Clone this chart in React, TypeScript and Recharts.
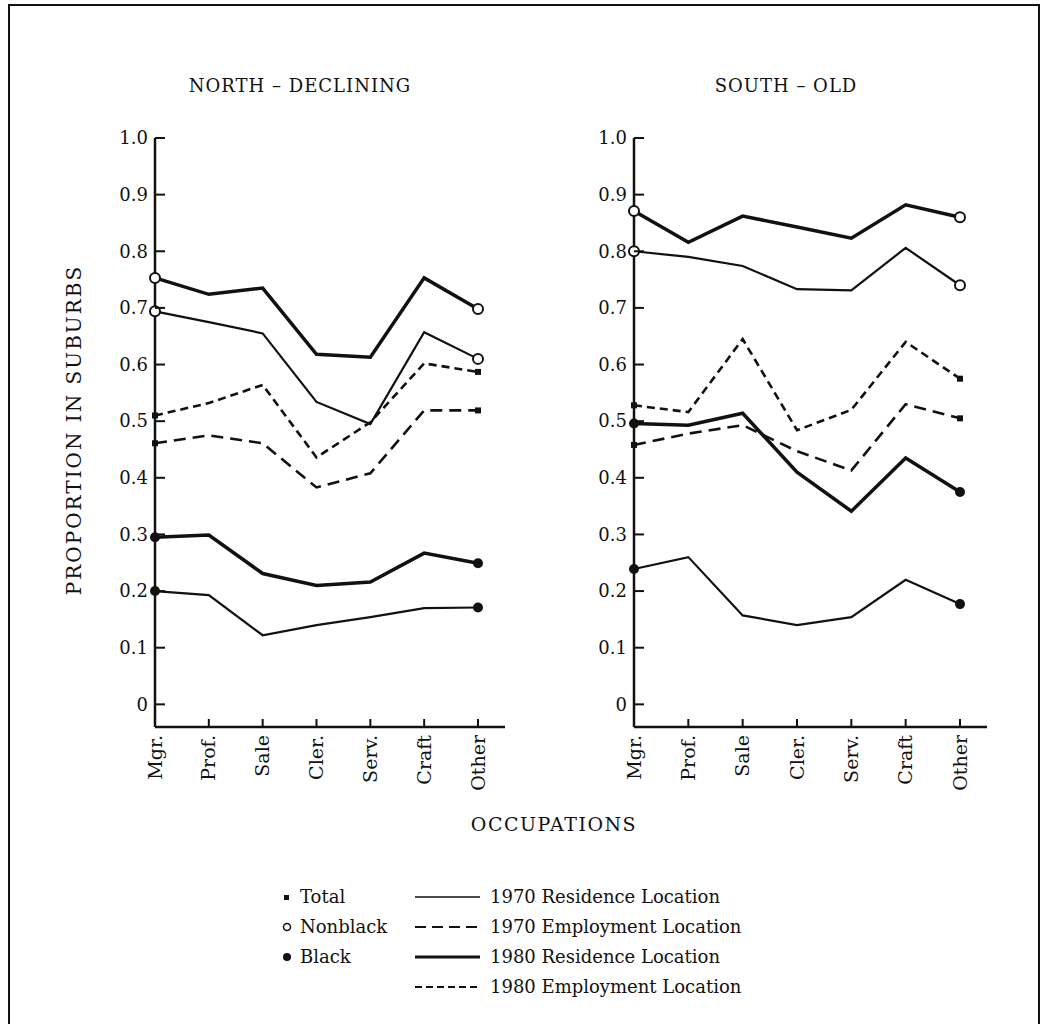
import React from 'react';
import { LineChart, Line, XAxis, YAxis } from 'recharts';

const OCCUPATIONS = ['Mgr.', 'Prof.', 'Sale', 'Cler.', 'Serv.', 'Craft', 'Other'];
const Y_TICKS = [0, 0.1, 0.2, 0.3, 0.4, 0.5, 0.6, 0.7, 0.8, 0.9, 1.0];

// North - declining
const northNonblackRes1980 = [0.753, 0.724, 0.735, 0.618, 0.613, 0.753, 0.698];
const northNonblackRes1970 = [0.694, 0.675, 0.655, 0.534, 0.495, 0.657, 0.61];
const northTotalEmp1980 = [0.51, 0.532, 0.564, 0.436, 0.498, 0.602, 0.587];
const northTotalEmp1970 = [0.461, 0.475, 0.461, 0.383, 0.408, 0.519, 0.519];
const northBlackRes1980 = [0.295, 0.299, 0.231, 0.21, 0.216, 0.267, 0.249];
const northBlackRes1970 = [0.2, 0.193, 0.122, 0.14, 0.154, 0.17, 0.171];

// South - old
const southNonblackRes1980 = [0.871, 0.816, 0.862, 0.843, 0.823, 0.882, 0.86];
const southNonblackRes1970 = [0.8, 0.79, 0.774, 0.733, 0.731, 0.806, 0.74];
const southTotalEmp1980 = [0.528, 0.516, 0.645, 0.484, 0.52, 0.64, 0.575];
const southTotalEmp1970 = [0.458, 0.478, 0.493, 0.447, 0.413, 0.53, 0.505];
const southBlackRes1980 = [0.496, 0.493, 0.514, 0.41, 0.341, 0.435, 0.375];
const southBlackRes1970 = [0.239, 0.26, 0.157, 0.14, 0.154, 0.22, 0.177];

const FONT = '"DejaVu Serif", serif';
const INK = '#111';

const buildRows = (series: Record<string, number[]>) =>
  OCCUPATIONS.map((occ, i) => {
    const row: any = { occ };
    Object.keys(series).forEach((k) => {
      row[k] = series[k][i];
    });
    return row;
  });

const northRows = buildRows({
  nbRes80: northNonblackRes1980,
  nbRes70: northNonblackRes1970,
  emp80: northTotalEmp1980,
  emp70: northTotalEmp1970,
  bRes80: northBlackRes1980,
  bRes70: northBlackRes1970,
});

const southRows = buildRows({
  nbRes80: southNonblackRes1980,
  nbRes70: southNonblackRes1970,
  emp80: southTotalEmp1980,
  emp70: southTotalEmp1970,
  bRes80: southBlackRes1980,
  bRes70: southBlackRes1970,
});

type Marker = 'open' | 'filled' | 'small';

// key, stroke width, dash pattern, end marker
const SERIES: { key: string; width: number; dash?: string; marker: Marker }[] = [
  { key: 'nbRes80', width: 3.5, marker: 'open' },
  { key: 'nbRes70', width: 2.2, marker: 'open' },
  { key: 'emp80', width: 2.6, dash: '8 5', marker: 'small' },
  { key: 'emp70', width: 2.6, dash: '12 7', marker: 'small' },
  { key: 'bRes80', width: 3.5, marker: 'filled' },
  { key: 'bRes70', width: 2.2, marker: 'filled' },
];

const endDot = (marker: Marker) => (props: any) => {
  const { cx, cy, index } = props;
  const last = OCCUPATIONS.length - 1;
  const k = `dot-${marker}-${index}`;
  if (index !== 0 && index !== last) return <g key={k} />;
  if (marker === 'open')
    return <circle key={k} cx={cx} cy={cy} r={5} fill="#fff" stroke={INK} strokeWidth={2} />;
  if (marker === 'filled') return <circle key={k} cx={cx} cy={cy} r={5} fill={INK} />;
  return <rect key={k} x={cx - 3} y={cy - 3} width={6} height={6} fill={INK} />;
};

const YTick = (props: any) => {
  const { x, y, payload } = props;
  const v = payload.value;
  const label = v === 0 ? '0' : v.toFixed(1);
  return (
    <g>
      <line x1={x} y1={y} x2={x + 10} y2={y} stroke={INK} strokeWidth={2} />
      <text x={x - 7} y={y} dy="0.35em" textAnchor="end" fontSize={18} fontFamily={FONT} fill={INK}>
        {label}
      </text>
    </g>
  );
};

const XTick = (props: any) => {
  const { x, y, payload } = props;
  return (
    <g>
      <line x1={x} y1={y} x2={x} y2={y - 8} stroke={INK} strokeWidth={2} />
      <text
        transform={`translate(${x},${y + 8}) rotate(-90)`}
        dy="0.35em"
        textAnchor="end"
        fontSize={19}
        fontFamily={FONT}
        fill={INK}
      >
        {payload.value}
      </text>
    </g>
  );
};

const PLOT_TOP = 138;
const PLOT_BOTTOM = 727;
const Y_AXIS_W = 70;
const X_AXIS_H = 70;
const CHART_H = 810;

const Panel = ({ axisX, plotWidth, rows }: { axisX: number; plotWidth: number; rows: any[] }) => {
  const width = 155 + plotWidth + 15;
  return (
    <div style={{ position: 'absolute', left: axisX - 155, top: 0 }}>
      <LineChart
        width={width}
        height={CHART_H}
        data={rows}
        margin={{ top: PLOT_TOP, right: 15, left: 155 - Y_AXIS_W, bottom: CHART_H - PLOT_BOTTOM - X_AXIS_H }}
      >
        <XAxis
          dataKey="occ"
          interval={0}
          padding={{ left: 0, right: 27 }}
          height={X_AXIS_H}
          tickSize={0}
          tickMargin={0}
          tickLine={false}
          tick={<XTick />}
          axisLine={{ stroke: INK, strokeWidth: 2.5 }}
        />
        <YAxis
          type="number"
          domain={[-0.04, 1]}
          allowDataOverflow
          ticks={Y_TICKS}
          width={Y_AXIS_W}
          tickSize={0}
          tickMargin={0}
          tickLine={false}
          tick={<YTick />}
          axisLine={{ stroke: INK, strokeWidth: 2.5 }}
        />
        {SERIES.map((s) => (
          <Line
            key={s.key}
            type="linear"
            dataKey={s.key}
            stroke={INK}
            strokeWidth={s.width}
            strokeDasharray={s.dash}
            dot={endDot(s.marker)}
            activeDot={false}
            isAnimationActive={false}
          />
        ))}
      </LineChart>
    </div>
  );
};

const LEGEND_ROWS = [897, 927, 957, 987];
const GROUP_LABELS = ['Total', 'Nonblack', 'Black'];
const LINE_LABELS = [
  '1970 Residence Location',
  '1970 Employment Location',
  '1980 Residence Location',
  '1980 Employment Location',
];

const Overlay = () => (
  <svg
    width={1043}
    height={1024}
    style={{ position: 'absolute', left: 0, top: 0, pointerEvents: 'none' }}
    fontFamily={FONT}
    fill={INK}
  >
    <path d="M9,1024 L9,5 L1039,5 L1039,1024" fill="none" stroke={INK} strokeWidth={2} />
    <text x={300} y={92} textAnchor="middle" fontSize={18} letterSpacing={1}>
      NORTH – DECLINING
    </text>
    <text x={786} y={92} textAnchor="middle" fontSize={18} letterSpacing={1}>
      SOUTH – OLD
    </text>
    <text
      transform="translate(74,430) rotate(-90)"
      dy="0.35em"
      textAnchor="middle"
      fontSize={20}
      letterSpacing={2}
    >
      PROPORTION IN SUBURBS
    </text>
    <text x={554} y={831} textAnchor="middle" fontSize={19} letterSpacing={1.5}>
      OCCUPATIONS
    </text>

    {/* legend: groups */}
    <rect x={284} y={LEGEND_ROWS[0] - 2} width={5} height={5} fill={INK} />
    <circle cx={287} cy={LEGEND_ROWS[1]} r={3.5} fill="#fff" stroke={INK} strokeWidth={1.5} />
    <circle cx={287} cy={LEGEND_ROWS[2]} r={4} fill={INK} />
    {GROUP_LABELS.map((t, i) => (
      <text key={t} x={300} y={LEGEND_ROWS[i]} dy="0.35em" fontSize={18}>
        {t}
      </text>
    ))}

    {/* legend: line styles */}
    <line x1={415} x2={480} y1={LEGEND_ROWS[0]} y2={LEGEND_ROWS[0]} stroke={INK} strokeWidth={1.5} />
    <line x1={415} x2={480} y1={LEGEND_ROWS[1]} y2={LEGEND_ROWS[1]} stroke={INK} strokeWidth={2} strokeDasharray="11 6" />
    <line x1={415} x2={480} y1={LEGEND_ROWS[2]} y2={LEGEND_ROWS[2]} stroke={INK} strokeWidth={3} />
    <line x1={415} x2={480} y1={LEGEND_ROWS[3]} y2={LEGEND_ROWS[3]} stroke={INK} strokeWidth={2} strokeDasharray="7 4" />
    {LINE_LABELS.map((t, i) => (
      <text key={t} x={490} y={LEGEND_ROWS[i]} dy="0.35em" fontSize={18}>
        {t}
      </text>
    ))}
  </svg>
);

export default function App() {
  return (
    <div
      style={{
        position: 'absolute',
        left: 0,
        top: 0,
        width: 1043,
        height: 1024,
        background: '#fff',
        overflow: 'hidden',
      }}
    >
      <Panel axisX={155} plotWidth={350} rows={northRows} />
      <Panel axisX={634} plotWidth={353} rows={southRows} />
      <Overlay />
    </div>
  );
}
